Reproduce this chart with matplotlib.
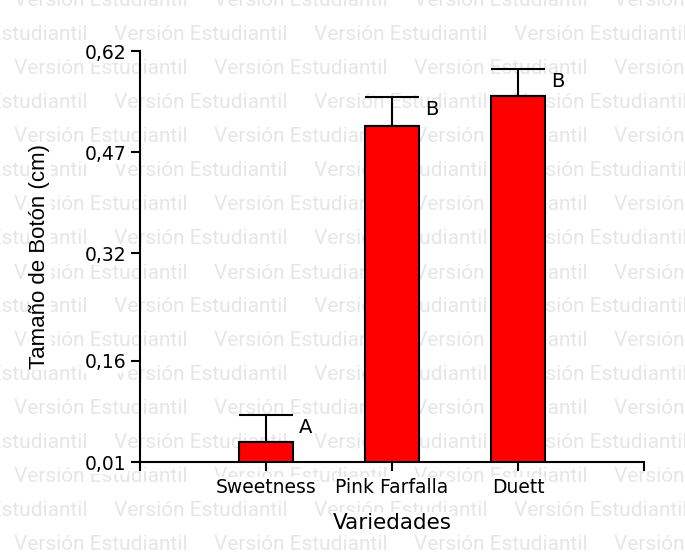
import matplotlib
matplotlib.use("Agg")
import matplotlib.pyplot as plt

plt.rcParams['font.family'] = ['DejaVu Sans']

# datos
variedades = ["Sweetness", "Pink Farfalla", "Duett"]
tamano = [0.039, 0.508, 0.553]
error = [0.041, 0.044, 0.040]
letras = ["A", "B", "B"]
yticks = [0.01, 0.16, 0.32, 0.47, 0.62]
ytick_labels = ["0,01", "0,16", "0,32", "0,47", "0,62"]

W, H = 685, 556
fig = plt.figure(figsize=(W / 100, H / 100), dpi=100)
fig.patch.set_facecolor('white')

# marca de agua "Versión Estudiantil"
for k in range(17):
    y = 1 + 34 * k
    x0 = 14 if k % 2 == 0 else 114
    for j in range(-1, 4):
        x = x0 + 200 * j
        fig.text(x / W, 1 - y / H, "Versión Estudiantil", fontsize=15,
                 family=['Roboto', 'DejaVu Sans'], color='#e6e6e6',
                 ha='left', va='center', zorder=-5)

ax = fig.add_axes([140 / W, 94 / H, 504 / W, 411 / H])
ax.set_facecolor('none')

pos = [i + 1 for i in range(len(variedades))]
ax.bar(pos, tamano, width=0.43, color='#ff0000', edgecolor='black',
       linewidth=1.5, zorder=2)
ax.errorbar(pos, tamano, yerr=[[0] * len(error), error], fmt='none',
            ecolor='black', elinewidth=1.5, capsize=19.5, capthick=1.5,
            zorder=3)

for p, t, e, l in zip(pos, tamano, error, letras):
    ax.text(p + 0.26, t + e - 0.019, l, fontsize=14, ha='left', va='center')

ax.set_xlim(0, len(variedades) + 1)
ax.set_ylim(yticks[0], yticks[-1])
ax.set_xticks(range(len(variedades) + 2))
ax.set_xticklabels([""] + variedades + [""])
ax.set_yticks(yticks)
ax.set_yticklabels(ytick_labels)

for s in ['top', 'right']:
    ax.spines[s].set_visible(False)
for s in ['left', 'bottom']:
    ax.spines[s].set_linewidth(1.5)

ax.tick_params(direction='out', length=6.5, width=1.5, labelsize=13.5)
ax.tick_params(axis='y', pad=3)
ax.tick_params(axis='x', pad=5)

for lbl in ax.get_xticklabels() + ax.get_yticklabels():
    lbl.set_bbox(dict(facecolor='white', edgecolor='none', pad=0.5))

ax.set_xlabel("Variedades", fontsize=15.5, va='center',
              bbox=dict(facecolor='white', edgecolor='none', pad=0.5))
ax.xaxis.set_label_coords(0.5, (556 - 523 - 94) / 411)
ax.set_ylabel("Tamaño de Botón (cm)", fontsize=16, va='center',
              family=['Liberation Sans', 'DejaVu Sans'],
              bbox=dict(facecolor='white', edgecolor='none', pad=0.5))
ax.yaxis.set_label_coords((40 - 140) / 504, 0.5)

fig.savefig("out.png", dpi=100)
